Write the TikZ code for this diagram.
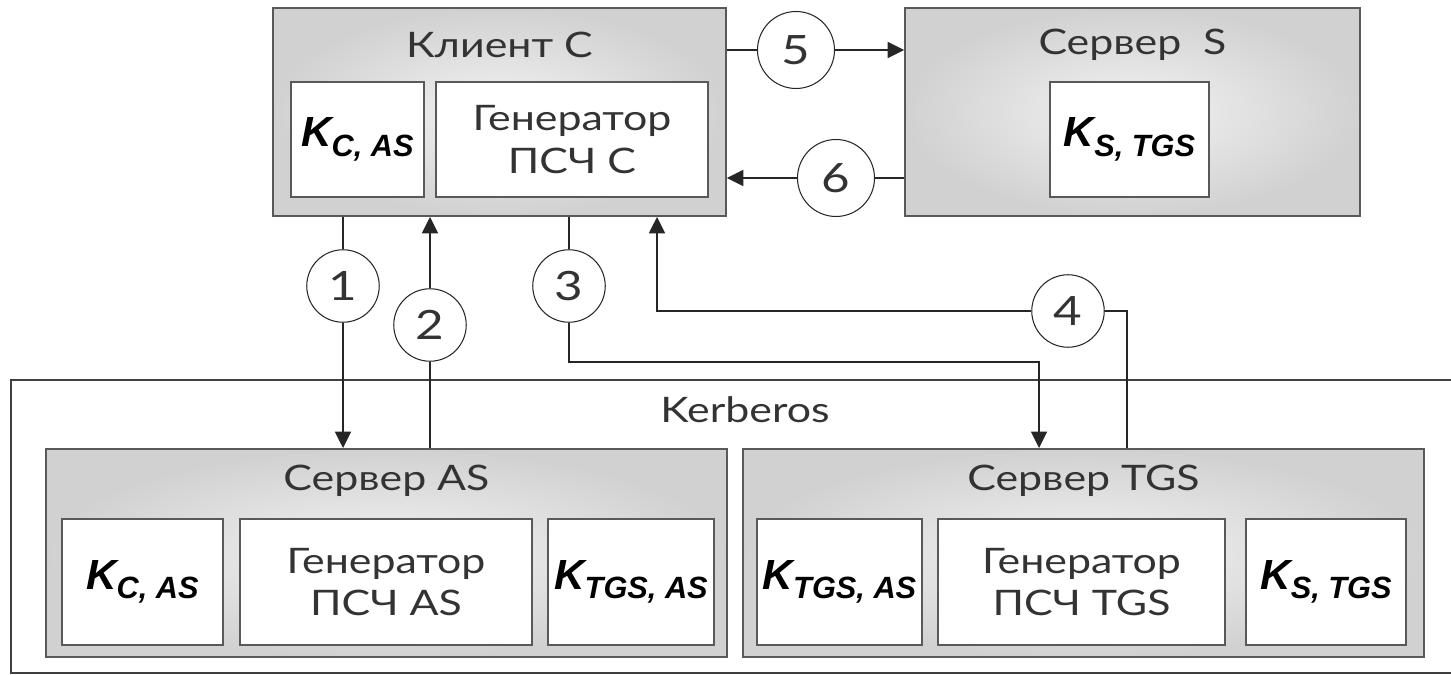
\documentclass[tikz,border=0pt]{standalone}
\usepackage{fontspec}
\setmainfont[FakeStretch=1.22]{Lato}
\newfontfamily\keyfont{Liberation Sans}
\usetikzlibrary{arrows.meta}

% key name: big K with a lowered index
\newcommand{\keyname}[1]{{\keyfont\bfseries\itshape
  \fontsize{24}{24}\selectfont K\raisebox{-5.5pt}{\fontsize{17.5}{17.5}\selectfont #1}}}

\tikzset{
  group/.style={draw=black!65, line width=1.1pt, inner color=black!5, outer color=black!18,
    minimum height=4.16cm},
  keybox/.style={draw=black!65, line width=1.1pt, fill=white},
  label/.style={text=black!80, font=\fontsize{20}{24}\selectfont, align=center},
  num/.style={circle, draw=black!85, line width=0.6pt, fill=white, minimum size=1.45cm,
    inner sep=0pt, text=black!80, font=\fontsize{23}{23}\selectfont},
  link/.style={line width=1pt, draw=black!85},
  tip/.style={link, -{Triangle[length=3.3mm, width=3.2mm]}}
}

\begin{document}
\begin{tikzpicture}[x=0.02cm, y=-0.02cm]
  \useasboundingbox (0,0) rectangle (1451,675);

  % client and server S
  \node (client) [group, minimum width=9.06cm] at (499.5,112) {};
  \node (clienttitle) [label] at (499.5,45) {Клиент С};
  \node (ckey) [keybox, minimum width=2.66cm, minimum height=2.3cm] at (357.5,139.5) {\keyname{C, AS}};
  \node (cgen) [keybox, label, minimum width=5.44cm, minimum height=2.3cm] at (572,139.5) {Генератор\\ПСЧ С};

  \node (srv) [group, minimum width=9.1cm] at (1132.5,112) {};
  \node (srvtitle) [label] at (1132.5,45) {Сервер\ \ S};
  \node (skey) [keybox, minimum width=3.18cm, minimum height=2.3cm] at (1129.5,139.5) {\keyname{S, TGS}};

  % Kerberos block
  \node (kerb) [draw=black!75, line width=0.9pt, minimum width=29.2cm, minimum height=5.86cm] at (741,526.5) {};
  \node (kerbtitle) [label] at (745,410) {Kerberos};

  \node (as) [group, minimum width=13.62cm] at (386.5,553) {};
  \node (astitle) [label] at (386.5,481) {Сервер AS};
  \node (askey1) [keybox, minimum width=3.22cm, minimum height=2.52cm] at (142.5,582) {\keyname{C, AS}};
  \node (asgen) [keybox, label, minimum width=5.84cm, minimum height=2.52cm] at (386,582) {Генератор\\ПСЧ AS};
  \node (askey2) [keybox, minimum width=3.2cm, minimum height=2.52cm] at (631,582) {\keyname{TGS, AS}};

  \node (tgs) [group, minimum width=13.62cm] at (1083.5,553) {};
  \node (tgstitle) [label] at (1083.5,481) {Сервер TGS};
  \node (tgskey1) [keybox, minimum width=3.18cm, minimum height=2.52cm] at (839.5,582) {\keyname{TGS, AS}};
  \node (tgsgen) [keybox, label, minimum width=5.74cm, minimum height=2.52cm] at (1081.5,582) {Генератор\\ПСЧ TGS};
  \node (tgskey2) [keybox, minimum width=3.2cm, minimum height=2.52cm] at (1326,582) {\keyname{S, TGS}};

  % message steps
  \node (n1) [num] at (343,286) {1};
  \node (n2) [num] at (430,325) {2};
  \node (n3) [num] at (569,286) {3};
  \node (n4) [num] at (1068,311) {4};
  \node (n5) [num, minimum size=1.54cm] at (796,50) {5};
  \node (n6) [num, minimum size=1.54cm] at (836,178) {6};

  \coordinate (turn3) at (1039,362);
  \coordinate (turn4) at (657,311);
  \coordinate (back4) at (1127,311);

  \draw[link] (n1) -- (n1 |- client.south);
  \draw[tip] (n1) -- (n1 |- as.north);
  \draw[link] (n2) -- (n2 |- as.north);
  \draw[tip] (n2) -- (n2 |- client.south);
  \draw[link] (n3) -- (n3 |- client.south);
  \draw[tip] (n3) |- (turn3) -- (turn3 |- tgs.north);
  \draw[link] (n4) -- (back4) -- (back4 |- tgs.north);
  \draw[tip] (n4) -- (turn4) -- (turn4 |- client.south);
  \draw[link] (n5) -- (n5 -| client.east);
  \draw[tip] (n5) -- (n5 -| srv.west);
  \draw[link] (n6) -- (n6 -| srv.west);
  \draw[tip] (n6) -- (n6 -| client.east);
\end{tikzpicture}
\end{document}
